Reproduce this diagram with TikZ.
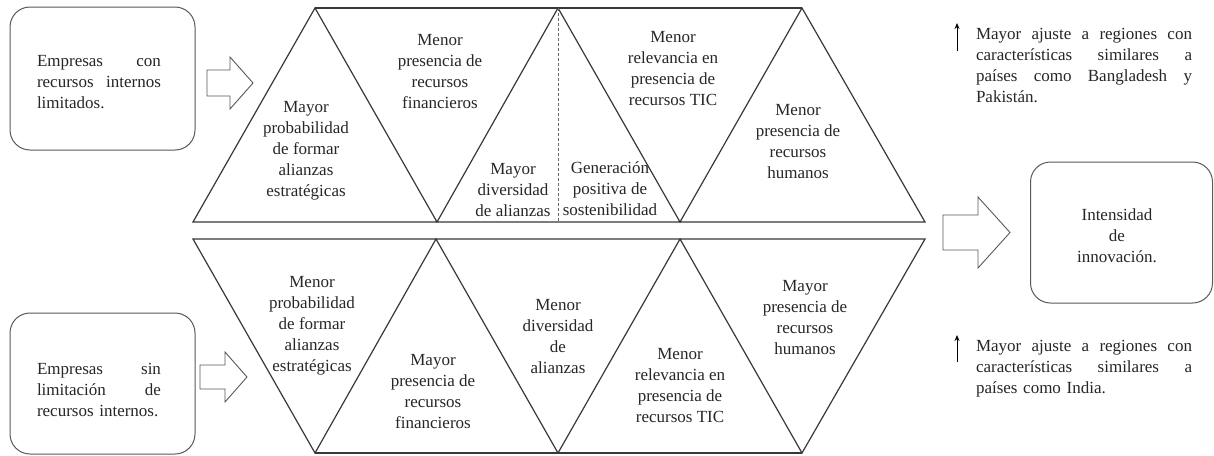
\documentclass[tikz,border=0pt]{standalone}
\usepackage{fontspec}
\setmainfont{Liberation Serif}
\usetikzlibrary{arrows.meta}
\begin{document}
\begin{tikzpicture}[x=1pt,y=-1pt,
  txt/.style={font=\fontsize{17}{21}\selectfont, text=black!85, align=center, inner sep=0pt},
  jtxt/.style={font=\fontsize{17}{21}\selectfont, text=black!85, align=left, inner sep=0pt},
  roundbox/.style={draw=black!65, line width=1pt, rounded corners=20pt, inner sep=0pt},
  band/.style={draw=black!78, line width=1.2pt, line join=miter},
  dashline/.style={draw=black!60, line width=0.8pt, dash pattern=on 3pt off 2pt},
  blockarrow/.style={draw=black!65, line width=0.9pt, fill=white, line join=miter},
  uparrow/.style={draw=black, line width=0.9pt, -{Stealth[length=6pt,width=5pt]}}]
\useasboundingbox (0,0) rectangle (1214,455);

% left boxes
\node[roundbox, minimum width=185pt, minimum height=143pt] (box1) at (102.5,78.5) {};
\node[jtxt, text width=124pt] (box1t) at (99,82) {Empresas\hfill con\\ recursos\hfill internos\\ limitados.};
\node[roundbox, minimum width=185pt, minimum height=141pt] (box2) at (102.5,383.5) {};
\node[jtxt, text width=124pt] (box2t) at (99,390) {Empresas\hfill sin\\ limitación\hfill de\\ recursos internos.};

% right box
\node[roundbox, minimum width=182pt, minimum height=141pt] (box3) at (1121.5,232.5) {};
\node[txt] (box3t) at (1117,236) {Intensidad\\ de\\ innovación.};

% block arrows
\draw[blockarrow] (207,70) -- (230,70) -- (230,57) -- (253,83) -- (230,109) -- (230,96) -- (207,96) -- cycle;
\draw[blockarrow] (200,365) -- (225,365) -- (225,352) -- (247,377) -- (225,402) -- (225,389) -- (200,389) -- cycle;
\draw[blockarrow] (943,215) -- (978,215) -- (978,197) -- (1010,232.5) -- (978,268) -- (978,250) -- (943,250) -- cycle;

% top band
\coordinate (tA) at (193,222);
\coordinate (tB) at (315,8);
\coordinate (tC) at (437,222);
\coordinate (tD) at (558,8);
\coordinate (tE) at (680,222);
\coordinate (tF) at (802,8);
\coordinate (tG) at (925,222);
\coordinate (tDb) at (558,222);
\draw[band] (tA) -- (tB) -- (tC) -- (tD) -- (tE) -- (tF) -- (tG) -- cycle;
\draw[band] (tB) -- (tF);
\draw[dashline] (tD) -- (tDb);

% bottom band
\coordinate (bA) at (193,239);
\coordinate (bB) at (315,453);
\coordinate (bC) at (436,239);
\coordinate (bD) at (558,453);
\coordinate (bE) at (680,239);
\coordinate (bF) at (802,453);
\coordinate (bG) at (925,239);
\draw[band] (bA) -- (bB) -- (bC) -- (bD) -- (bE) -- (bF) -- (bG) -- cycle;
\draw[band] (bB) -- (bF);

% top band texts
\node[txt] (t1) at (306,150.5) {Mayor\\ probabilidad\\ de formar\\ alianzas\\ estratégicas};
\node[txt] (t2) at (440,71.5) {Menor\\ presencia de\\ recursos\\ financieros};
\node[txt] (t3) at (513,190) {Mayor\\ diversidad\\ de alianzas};
\node[txt] (t4) at (610,189) {Generación\\ positiva de\\ sostenibilidad};
\node[txt] (t5) at (673,68.5) {Menor\\ relevancia en\\ presencia de\\ recursos TIC};
\node[txt] (t6) at (798,141.5) {Menor\\ presencia de\\ recursos\\ humanos};

% bottom band texts
\node[txt] (u1) at (312,325.5) {Menor\\ probabilidad\\ de formar\\ alianzas\\ estratégicas};
\node[txt] (u2) at (433,391.5) {Mayor\\ presencia de\\ recursos\\ financieros};
\node[txt] (u3) at (558,336.5) {Menor\\ diversidad\\ de\\ alianzas};
\node[txt] (u4) at (680,385.5) {Menor\\ relevancia en\\ presencia de\\ recursos TIC};
\node[txt] (u5) at (805,317.5) {Mayor\\ presencia de\\ recursos\\ humanos};

% notes
\coordinate (n1s) at (957,51);
\coordinate (n1e) at (957,23);
\draw[uparrow] (n1s) -- (n1e);
\node[jtxt, text width=216pt] (n1) at (1084,65.5) {Mayor\hfill ajuste\hfill a\hfill regiones\hfill con\\ características\hfill similares\hfill a\\ países\hfill como\hfill Bangladesh\hfill y\\ Pakistán.};
\coordinate (n2s) at (957,362);
\coordinate (n2e) at (957,335);
\draw[uparrow] (n2s) -- (n2e);
\node[jtxt, text width=216pt] (n2) at (1084,368.5) {Mayor\hfill ajuste\hfill a\hfill regiones\hfill con\\ características\hfill similares\hfill a\\ países como India.};
\end{tikzpicture}
\end{document}
